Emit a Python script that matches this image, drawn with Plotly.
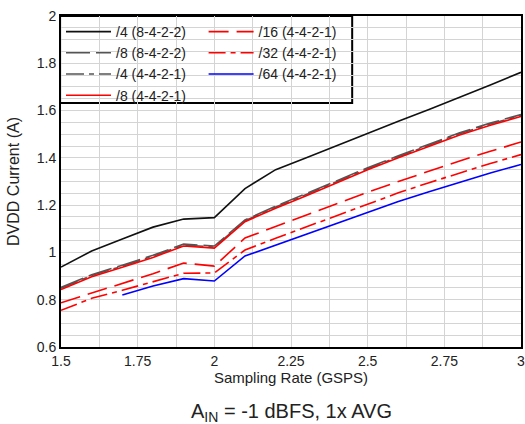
import plotly.graph_objects as go

rate = [1.5, 1.6, 1.7, 1.8, 1.9, 2.0, 2.1, 2.2, 2.3, 2.4, 2.5, 2.6, 2.7, 2.8, 2.9, 3.0]
rate_64 = [1.7, 1.8, 1.9, 2.0, 2.1, 2.2, 2.3, 2.4, 2.5, 2.6, 2.7, 2.8, 2.9, 3.0]

div4_8422 = [0.938, 1.006, 1.057, 1.107, 1.141, 1.147, 1.270, 1.350, 1.400, 1.452, 1.505, 1.555, 1.605, 1.655, 1.708, 1.762]
div8_8422 = [0.852, 0.906, 0.946, 0.988, 1.035, 1.027, 1.137, 1.196, 1.249, 1.304, 1.358, 1.409, 1.459, 1.506, 1.547, 1.583]
div4_4421 = [0.848, 0.902, 0.942, 0.984, 1.031, 1.023, 1.134, 1.192, 1.245, 1.300, 1.354, 1.405, 1.455, 1.502, 1.543, 1.579]
div8_4421 = [0.843, 0.897, 0.937, 0.979, 1.027, 1.018, 1.130, 1.187, 1.240, 1.295, 1.350, 1.400, 1.450, 1.497, 1.538, 1.575]
div16_4421 = [0.787, 0.827, 0.870, 0.910, 0.955, 0.942, 1.061, 1.110, 1.158, 1.206, 1.255, 1.300, 1.345, 1.387, 1.428, 1.467]
div32_4421 = [0.755, 0.806, 0.840, 0.875, 0.912, 0.913, 1.010, 1.060, 1.108, 1.156, 1.206, 1.252, 1.295, 1.337, 1.376, 1.414]
div64_4421 = [0.820, 0.858, 0.889, 0.879, 0.985, 1.031, 1.078, 1.124, 1.170, 1.215, 1.257, 1.298, 1.336, 1.372]

names = ["/4 (8-4-2-2)", "/8 (8-4-2-2)", "/4 (4-4-2-1)", "/8 (4-4-2-1)",
         "/16 (4-4-2-1)", "/32 (4-4-2-1)", "/64 (4-4-2-1)"]

FONT = "Liberation Sans, Arial, sans-serif"
TXT = "#222222"

fig = go.Figure()

def add(x, y, name, color, dash, legend, rank):
    fig.add_trace(go.Scatter(
        x=x, y=y, name=name, mode="lines",
        line=dict(color=color, width=1.6, dash=dash),
        legend=legend, legendrank=rank, hoverinfo="skip"))

add(rate, div8_8422, names[1], "#555555", "24px,6px", "legend", 2)
add(rate, div4_4421, names[2], "#555555", "18px,5px,5px,5px", "legend", 3)
add(rate, div4_8422, names[0], "#111111", "solid", "legend", 1)
add(rate, div8_4421, names[3], "#ff0000", "solid", "legend", 4)
add(rate, div16_4421, names[4], "#ff0000", "20px,8px", "legend2", 1)
add(rate, div32_4421, names[5], "#ff0000", "17px,5px,5px,5px", "legend2", 2)
add(rate_64, div64_4421, names[6], "#0000ff", "solid", "legend2", 3)

grid = "#d4d4d4"
fig.update_layout(
    width=525, height=424,
    margin=dict(l=61, r=4, t=16, b=77),
    paper_bgcolor="white", plot_bgcolor="white",
    font=dict(family=FONT, size=14, color=TXT),
    xaxis=dict(
        range=[1.5, 3.0], tickvals=[1.5, 1.75, 2, 2.25, 2.5, 2.75, 3],
        ticktext=["1.5", "1.75", "2", "2.25", "2.5", "2.75", "3"],
        showgrid=True, gridcolor=grid, gridwidth=1,
        minor=dict(dtick=0.125, showgrid=True, gridcolor=grid, gridwidth=1),
        showline=True, linecolor="black", linewidth=2, mirror=True,
        ticks="", zeroline=False, automargin=False, ticklabeloverflow="allow",
        title=dict(text="Sampling Rate (GSPS)", font=dict(size=15, color=TXT), standoff=4),
    ),
    yaxis=dict(
        range=[0.6, 2.0], tickvals=[0.6, 0.8, 1.0, 1.2, 1.4, 1.6, 1.8, 2.0],
        ticktext=["0.6", "0.8", "1", "1.2", "1.4", "1.6", "1.8", "2"],
        showgrid=True, gridcolor=grid, gridwidth=1,
        minor=dict(dtick=0.05, showgrid=True, gridcolor=grid, gridwidth=1),
        showline=True, linecolor="black", linewidth=2, mirror=True,
        ticks="", zeroline=False, automargin=False,
        title=dict(text="DVDD Current (A)", font=dict(size=16, color=TXT), standoff=13),
    ),
    legend=dict(
        x=0.0, y=1.0, xanchor="left", yanchor="top",
        bgcolor="rgba(0,0,0,0)", borderwidth=0,
        font=dict(family=FONT, size=14, color=TXT),
        tracegroupgap=0, itemwidth=45,
    ),
    legend2=dict(
        x=0.31, y=1.0, xanchor="left", yanchor="top",
        bgcolor="rgba(0,0,0,0)", borderwidth=0,
        font=dict(family=FONT, size=14, color=TXT),
        tracegroupgap=0, itemwidth=45,
    ),
    shapes=[dict(type="rect", xref="paper", yref="paper",
                 x0=-0.002, x1=0.633, y0=0.737, y1=1.0,
                 line=dict(color="black", width=2), fillcolor="white", layer="below")],
    annotations=[dict(
        text="A<sub>IN</sub> = -1 dBFS, 1x AVG", xref="paper", yref="paper",
        x=0.5, y=-0.199, xanchor="center", yanchor="middle", showarrow=False,
        font=dict(family=FONT, size=20, color=TXT))],
)

fig.write_html("out.html", config={"displayModeBar": False},
               post_script="document.body.style.margin='0';document.body.style.overflow='hidden';")
